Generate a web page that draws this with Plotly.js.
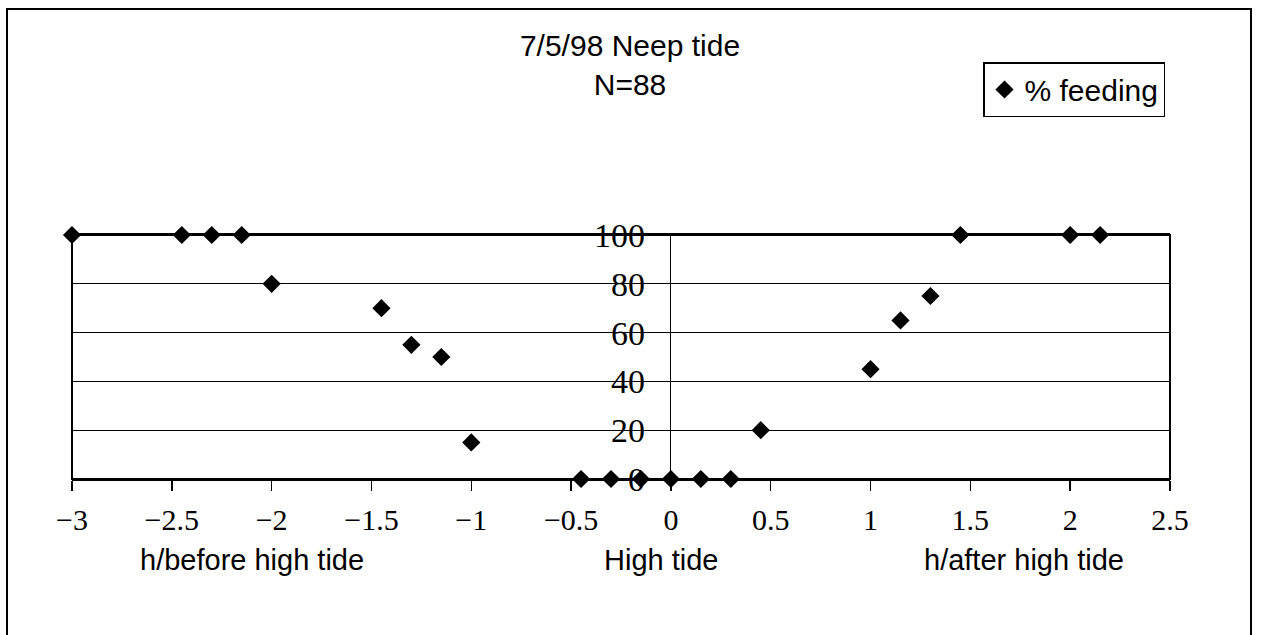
<!DOCTYPE html>
<html>
<head>
<meta charset="utf-8">
<script src="https://cdn.plot.ly/plotly-3.0.1.min.js"></script>
<style>html,body{margin:0;padding:0;background:#fff;}#chart{width:1261px;height:635px;}</style>
</head>
<body>
<div id="chart"></div>
<script>
// Hours relative to high tide (negative = before)
const hours = [-3, -2.45, -2.3, -2.15, -2, -1.45, -1.3, -1.15, -1, -0.45, -0.3, -0.15, 0, 0.15, 0.3, 0.45, 1, 1.15, 1.3, 1.45, 2, 2.15];
// % feeding
const feeding = [100, 100, 100, 100, 80, 70, 55, 50, 15, 0, 0, 0, 0, 0, 0, 20, 45, 65, 75, 100, 100, 100];
const seriesName = '% feeding';
const titleText = '7/5/98 Neep tide<br>N=88';
const xTickVals = [-3, -2.5, -2, -1.5, -1, -0.5, 0, 0.5, 1, 1.5, 2, 2.5];
const yTickVals = [0, 20, 40, 60, 80, 100];
const axisLabels = ['h/before high tide', 'High tide', 'h/after high tide'];
const axisLabelHours = [-2.1, -0.05, 1.77];

const W = 1261, H = 635;
const L = 72, R = 1170, T = 235, B = 479;
const pw = R - L, ph = B - T;
const px = v => (v - L) / pw;
const py = v => (B - v) / ph;

const sans = 'Liberation Sans, Arial, sans-serif';
const serif = 'Liberation Serif, Times New Roman, serif';

const trace = {
  x: hours, y: feeding, name: seriesName, type: 'scatter', mode: 'markers',
  xaxis: 'x', yaxis: 'y2', cliponaxis: false,
  marker: {symbol: 'diamond', size: 14, color: '#000'}
};

const annotations = axisLabels.map((t, i) => ({
  text: t, xref: 'x', yref: 'paper', x: axisLabelHours[i], y: py(560),
  xanchor: 'center', yanchor: 'middle', showarrow: false,
  font: {family: sans, size: 29, color: '#000'}
}));

const layout = {
  width: W, height: H,
  margin: {l: L, r: W - R, t: T, b: H - B, pad: 0},
  paper_bgcolor: '#fff', plot_bgcolor: '#fff',
  showlegend: true,
  title: {text: titleText, x: 630 / W, xanchor: 'center', y: 1 - 56 / H, yanchor: 'top', yref: 'container',
          font: {family: sans, size: 30, color: '#000'}},
  xaxis: {
    range: [-3, 2.5], tickvals: xTickVals, ticks: 'outside', ticklen: 10, tickwidth: 1.5, tickcolor: '#000',
    showgrid: false, zeroline: true, zerolinecolor: '#000', zerolinewidth: 1,
    showline: true, mirror: true, linecolor: '#000', linewidth: 2,
    tickfont: {family: serif, size: 30, color: '#000'}, ticklabelstandoff: 3,
    fixedrange: true, anchor: 'y'
  },
  yaxis: {
    range: [0, 100], tickvals: yTickVals, showticklabels: false, ticks: '',
    showgrid: false, zeroline: false, showline: false, fixedrange: true
  },
  yaxis2: {
    range: [0, 100], tickvals: yTickVals, overlaying: 'y', anchor: 'free', position: px(672), side: 'left',
    showgrid: true, gridcolor: '#000', gridwidth: 1,
    zeroline: false, showline: false, ticks: '', ticklabelstandoff: 27,
    tickfont: {family: serif, size: 34, color: '#000'}, fixedrange: true
  },
  legend: {
    x: px(983), y: py(62), xanchor: 'left', yanchor: 'top', bgcolor: '#fff',
    bordercolor: '#000', borderwidth: 1.5,
    font: {family: sans, size: 30, color: '#000'}
  },
  annotations: annotations,
  shapes: [
    {type: 'rect', xref: 'paper', yref: 'paper', x0: px(7), x1: px(1251), y0: py(645), y1: py(9),
     line: {color: '#000', width: 2}, layer: 'below'},
    {type: 'rect', xref: 'paper', yref: 'paper', x0: 0, x1: 1, y0: 0, y1: 1,
     line: {color: '#000', width: 2}, layer: 'above'}
  ]
};

Plotly.newPlot('chart', [trace], layout, {displayModeBar: false, staticPlot: true});
</script>
</body>
</html>
